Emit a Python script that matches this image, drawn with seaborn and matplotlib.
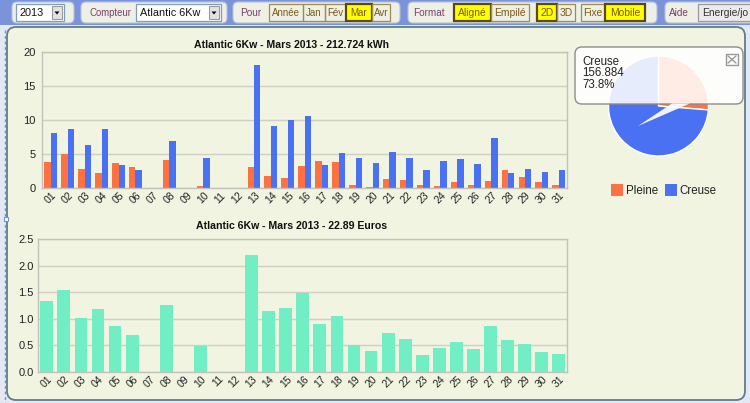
import matplotlib
matplotlib.use("Agg")
import matplotlib.pyplot as plt
import matplotlib.transforms as mtransforms
from matplotlib.patches import FancyBboxPatch, Rectangle, Polygon
from matplotlib.lines import Line2D
import pandas as pd
import seaborn as sns

# ---------------- data ----------------
days = [f"{i:02d}" for i in range(1, 32)]
pleine = [3.87, 5.00, 2.79, 2.30, 3.68, 3.14, 0, 4.20, 0, 0.34, 0, 0, 3.09, 1.81, 1.57, 3.28,
          4.07, 3.87, 0.44, 0.15, 1.37, 1.23, 0.44, 0.29, 0.88, 0.44, 1.08, 2.65, 1.72, 0.93, 0.44]
creuse = [8.09, 8.73, 6.37, 8.73, 3.38, 2.65, 0, 7.00, 0, 4.50, 0, 0, 18.09, 9.17, 10.00, 10.59,
          3.43, 5.15, 4.50, 3.73, 5.29, 4.50, 2.65, 4.07, 4.36, 3.58, 7.35, 2.30, 2.79, 2.45, 2.65]
euros = [1.338, 1.533, 1.018, 1.175, 0.861, 0.697, 0, 1.256, 0, 0.477, 0, 0, 2.198, 1.137, 1.193, 1.482,
         0.898, 1.043, 0.503, 0.396, 0.722, 0.616, 0.320, 0.440, 0.559, 0.421, 0.861, 0.597, 0.515, 0.377, 0.339]
series_names = ["Pleine", "Creuse"]
pie_values = [55.84, 156.884]
title_kwh = "Atlantic 6Kw - Mars 2013 - 212.724 kWh"
title_eur = "Atlantic 6Kw - Mars 2013 - 22.89 Euros"
kwh_ticks = [0, 5, 10, 15, 20]
eur_ticks = [0.0, 0.5, 1.0, 1.5, 2.0, 2.5]
tooltip_lines = ["Creuse", "156.884", "73.8%"]

ORANGE = "#fe7141"
BLUE = "#4a71f2"
GREEN = "#71eec3"
PANEL = "#f1f4e1"

sns.set_theme(style="white")
plt.rcParams["font.family"] = ["Liberation Sans", "DejaVu Sans"]

W, H = 750, 403
fig = plt.figure(figsize=(W / 100, H / 100), dpi=100, facecolor="#e3e8f2")
T = mtransforms.Affine2D().scale(1, -1).translate(0, H)


def fx(x):
    return x / W


def fy(y):
    return 1 - y / H


def add(p):
    fig.add_artist(p)
    return p


def txt(x, y, s, **kw):
    kw.setdefault("va", "center")
    kw.setdefault("transform", T)
    return fig.text(x, y, s, **kw)


# ---------------- toolbar / frame ----------------
add(Rectangle((0, 0), W, 25, transform=T, fc="#7b94d9", ec="none", zorder=-4))
add(FancyBboxPatch((7, 27), 738, 373, boxstyle="round,pad=0,rounding_size=9", transform=T,
                   fc=PANEL, ec="#5f7d8c", lw=1.3, zorder=-3))
add(Line2D([4.5, 4.5], [30, 403], transform=T, color="#6f8fe0", lw=1, dashes=(2, 2), zorder=-3))
add(Rectangle((3.5, 216.5), 4, 4, transform=T, fc="white", ec="#6f8fe0", lw=0.8, zorder=-2))

for x0, x1 in [(12, 74), (81, 227), (233, 400), (408, 657), (665, 775)]:
    add(FancyBboxPatch((x0, 2), x1 - x0, 21, boxstyle="round,pad=0,rounding_size=5", transform=T,
                       fc="#eef0e6", ec="#b4c0da", lw=0.8, zorder=-2))


def select(x0, x1, label, lx):
    add(Rectangle((x0, 4), x1 - x0, 17, transform=T, fc="white", ec="#7f9db9", lw=0.9, zorder=-1))
    add(Rectangle((x1 - 12, 6), 10, 13, transform=T, fc="#e2e2e2", ec="#9a9a9a", lw=0.8, zorder=-1))
    cx = x1 - 7
    add(Polygon([(cx - 2.5, 11.5), (cx + 2.5, 11.5), (cx, 14.5)], closed=True, transform=T,
                fc="black", ec="none", zorder=-1))
    txt(lx, 12.5, label, fontsize=7.8, color="#111111")


def button(x0, x1, label, sel, fs=7.3):
    add(Rectangle((x0, 4), x1 - x0, 17, transform=T,
                  fc="#ffff00" if sel else "none",
                  ec="#5c4a0a" if sel else "#a08c4c", lw=1.6 if sel else 0.9, zorder=-1))
    txt((x0 + x1) / 2, 12.5, label, ha="center", fontsize=fs, color="#7a5a14")


LABEL_C = "#7b3f6e"
select(16, 64, "2013", 20)
txt(90, 12.5, "Compteur", fontsize=6.9, color=LABEL_C)
select(136, 221, "Atlantic 6Kw", 140)
txt(240, 12.5, "Pour", fontsize=7.2, color=LABEL_C)
for x0, x1, lab, sel in [(269, 303, "Année", False), (303, 325, "Jan", False), (325, 346, "Fév", False),
                         (346, 372, "Mar", True), (372, 390, "Avr", False)]:
    button(x0, x1, lab, sel, fs=7.0)
txt(413, 12.5, "Format", fontsize=7.2, color=LABEL_C)
for x0, x1, lab, sel in [(454, 491, "Aligné", True), (491, 529, "Empilé", False), (537, 557, "2D", True),
                         (557, 575, "3D", False), (581, 605, "Fixe", False), (605, 645, "Mobile", True)]:
    button(x0, x1, lab, sel, fs=7.4)
txt(669, 12.5, "Aide", fontsize=7.2, color=LABEL_C)
add(Rectangle((698, 4), 70, 17, transform=T, fc="#ebebeb", ec="#9a9a9a", lw=0.9, zorder=-1))
txt(702, 12.5, "Energie/jo", fontsize=7.4, color="#333333")

# ---------------- bar charts ----------------
df = pd.DataFrame({
    "day": days * 2,
    "kWh": pleine + creuse,
    "type": [series_names[0]] * len(days) + [series_names[1]] * len(days),
})
ax1 = fig.add_axes([fx(42.3), fy(188.3), fx(567.3) - fx(42.3), fy(52.3) - fy(188.3)])
sns.barplot(data=df, x="day", y="kWh", hue="type", palette=[ORANGE, BLUE], width=0.76,
            saturation=1, legend=False, ax=ax1, linewidth=0, edgecolor="none")

ax2 = fig.add_axes([fx(38.3), fy(371.7), fx(567.3) - fx(38.3), fy(239) - fy(371.7)])
sns.barplot(x=days, y=euros, color=GREEN, width=0.75, saturation=1, ax=ax2,
            linewidth=0, edgecolor="none")

for ax, ticks, fmt in [(ax1, kwh_ticks, "{:.0f}"), (ax2, eur_ticks, "{:.1f}")]:
    ax.set_facecolor(PANEL)
    ax.set_xlim(-0.5, len(days) - 0.5)
    ax.set_ylim(ticks[0], ticks[-1])
    ax.set_yticks(ticks)
    ax.set_yticklabels([fmt.format(t) for t in ticks], fontsize=8, color="#222222")
    ax.set_xticks(range(len(days)))
    ax.set_xticklabels(days, rotation=45, fontsize=7.5, color="#222222")
    ax.set_xlabel("")
    ax.set_ylabel("")
    ax.tick_params(axis="both", length=0)
    ax.tick_params(axis="x", pad=1.5)
    ax.yaxis.grid(True, color="#cfcfc6", lw=1)
    ax.set_axisbelow(True)
    for s in ax.spines.values():
        s.set_visible(True)
        s.set_color("#c2c2ba")
        s.set_linewidth(1)
ax1.tick_params(axis="y", pad=5)
ax2.tick_params(axis="y", pad=3.5)

txt(292, 44.5, title_kwh, ha="center", fontsize=7.6, fontweight="bold", color="#111111")
txt(292, 226, title_eur, ha="center", fontsize=7.6, fontweight="bold", color="#111111")

# ---------------- pie ----------------
cx, cy, r = 658.5, 106, 51
axp = fig.add_axes([fx(cx - r), fy(cy + r), fx(cx + r) - fx(cx - r), fy(cy - r) - fy(cy + r)])
axp.pie(pie_values, colors=[ORANGE, BLUE], startangle=90, counterclock=False,
        wedgeprops=dict(edgecolor="white", linewidth=1))
axp.set_xlim(-1.02, 1.02)
axp.set_ylim(-1.02, 1.02)
axp.set_aspect("equal")
axp.axis("off")

# legend of pie
add(Rectangle((611, 184), 12, 12, transform=T, fc=ORANGE, ec="none"))
txt(626, 190.5, series_names[0], fontsize=8.3, color="#222222")
add(Rectangle((664.5, 184), 12, 12, transform=T, fc=BLUE, ec="none"))
txt(679, 190.5, series_names[1], fontsize=8.3, color="#222222")

# tooltip
add(FancyBboxPatch((575, 47), 168, 57, boxstyle="round,pad=0,rounding_size=7", transform=T,
                   fc=(1, 1, 1, 0.87), ec="#8c8c8c", lw=1, zorder=5))
add(Polygon([(672, 103.4), (690, 103.4), (638, 126)], closed=True, transform=T,
            fc=(1, 1, 1, 0.92), ec="none", zorder=6))
add(Rectangle((726, 54), 12, 11, transform=T, fc="none", ec="#9a9a9a", lw=1, zorder=6))
add(Line2D([728, 736], [56, 63], transform=T, color="#9a9a9a", lw=1, zorder=6))
add(Line2D([728, 736], [63, 56], transform=T, color="#9a9a9a", lw=1, zorder=6))
for i, line in enumerate(tooltip_lines):
    t = txt(582, 62 + i * 11.3, line, fontsize=8.3, color="#222222")
    t.set_zorder(7)

fig.savefig("out.png", dpi=100, facecolor=fig.get_facecolor())
